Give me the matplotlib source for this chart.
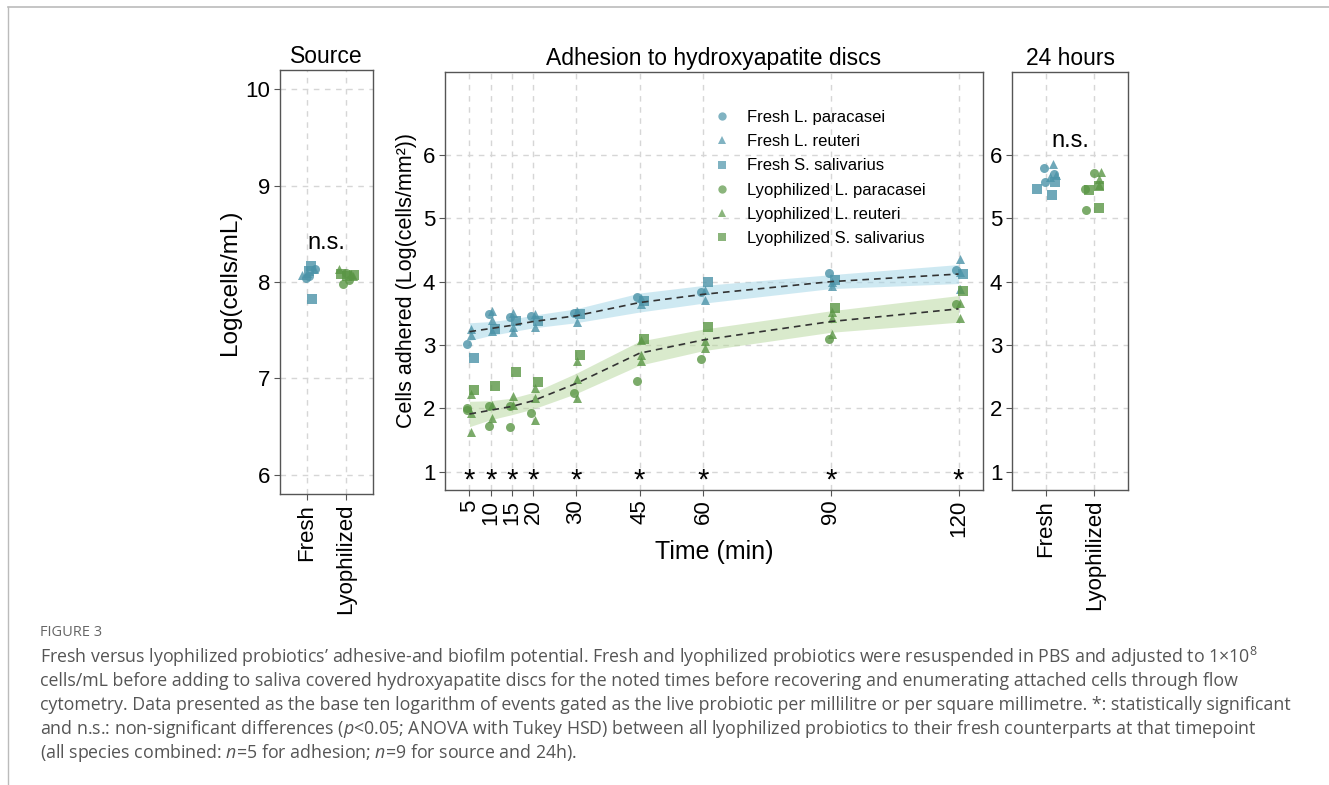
import matplotlib.pyplot as plt
from matplotlib.lines import Line2D

plt.rcParams['font.family'] = ['Liberation Sans', 'DejaVu Sans']
plt.rcParams['mathtext.fontset'] = 'custom'
plt.rcParams['mathtext.rm'] = 'Open Sans'
plt.rcParams['mathtext.it'] = 'Open Sans:italic'

# ---- adhesion panel data (log cells/mm2) ----
times = [5, 10, 15, 20, 30, 45, 60, 90, 120]

fresh_para = [[3.02], [3.49], [3.44], [3.46], [3.51], [3.76], [3.83], [4.14], [4.18]]
fresh_reut = [[3.26, 3.16], [3.54, 3.39, 3.22], [3.50, 3.29, 3.20], [3.49, 3.28],
              [3.54, 3.37], [3.74, 3.64], [3.87, 3.71], [4.00, 3.93], [4.35, 4.15, 3.88]]
fresh_sal = [[2.80], [3.25], [3.38], [3.38], [3.49], [3.69], [3.99], [4.03], [4.12]]

lyo_para = [[2.00, 1.98], [2.04, 1.72], [2.03, 1.71], [1.93], [2.24], [2.43],
            [2.78], [3.09], [3.65]]
lyo_reut = [[2.22, 1.93, 1.63], [2.06, 1.85], [2.20, 2.06], [2.32, 2.16, 1.82],
            [2.74, 2.46, 2.16], [3.08, 2.84, 2.75], [3.06, 2.95], [3.52, 3.42, 3.17],
            [3.67, 3.42]]
lyo_sal = [[2.29], [2.35], [2.58], [2.41], [2.84], [3.09], [3.28], [3.58], [3.85]]

# smoothed fit, with ribbon half widths
fresh_fit = [3.21, 3.26, 3.31, 3.37, 3.46, 3.67, 3.80, 4.00, 4.12]
fresh_se = [0.14, 0.11, 0.10, 0.10, 0.11, 0.15, 0.14, 0.11, 0.15]
lyo_fit = [1.91, 1.97, 2.03, 2.12, 2.39, 2.87, 3.08, 3.37, 3.57]
lyo_se = [0.20, 0.15, 0.13, 0.13, 0.16, 0.19, 0.17, 0.17, 0.21]

# ---- side panels: (x jitter, value) ----
source_fresh_para = [(-0.04, 8.04), (0.06, 8.06), (0.20, 8.13)]
source_fresh_reut = [(0.17, 8.14), (-0.12, 8.07), (0.00, 8.09)]
source_fresh_sal = [(0.11, 8.17), (0.06, 8.11), (0.12, 7.82)]
source_lyo_para = [(0.00, 8.09), (-0.08, 7.98), (0.08, 8.02)]
source_lyo_reut = [(-0.19, 8.14), (0.12, 8.08), (0.19, 8.06)]
source_lyo_sal = [(0.04, 8.06), (-0.12, 8.08), (0.20, 8.07)]

h24_fresh_para = [(-0.03, 5.80), (0.16, 5.70), (-0.01, 5.58)]
h24_fresh_reut = [(0.15, 5.85), (0.20, 5.69), (0.09, 5.66)]
h24_fresh_sal = [(0.18, 5.58), (-0.19, 5.47), (0.13, 5.37)]
h24_lyo_para = [(0.00, 5.72), (-0.19, 5.46), (-0.16, 5.13)]
h24_lyo_reut = [(0.14, 5.73), (0.11, 5.62), (0.09, 5.53)]
h24_lyo_sal = [(0.11, 5.51), (-0.10, 5.44), (0.09, 5.16)]

legend_labels = ["Fresh L. paracasei", "Fresh L. reuteri", "Fresh S. salivarius",
                 "Lyophilized L. paracasei", "Lyophilized L. reuteri",
                 "Lyophilized S. salivarius"]

FRESH = "#4b93a8"
LYO = "#5a9645"
W, H = 1329, 785
TICK_FS = 16
TITLE_FS = 16.5


def style_axes(ax):
    for s in ax.spines.values():
        s.set_color("#555555")
        s.set_linewidth(1.0)
    ax.grid(True, color="#d6d6d6", linestyle=(0, (4, 4)), linewidth=1.0)
    ax.set_axisbelow(True)
    ax.tick_params(length=4, width=0.8, color="#555555", labelsize=TICK_FS,
                   labelcolor="black", pad=3)


def side_points(ax, pos, groups, color):
    for pts, m in groups:
        ax.scatter([pos + p[0] for p in pts], [p[1] for p in pts], marker=m,
                   s=42, color=color, alpha=0.8, linewidths=0, zorder=3)


fig = plt.figure(figsize=(W / 100, H / 100), dpi=100)

# ---------- Source panel ----------
ax1 = fig.add_axes([280 / W, 1 - 494 / H, 93 / W, 424 / H])
style_axes(ax1)
side_points(ax1, 1, [(source_fresh_para, "o"), (source_fresh_reut, "^"),
                     (source_fresh_sal, "s")], FRESH)
side_points(ax1, 2, [(source_lyo_para, "o"), (source_lyo_reut, "^"),
                     (source_lyo_sal, "s")], LYO)
ax1.set_xlim(0.3, 2.7)
ax1.set_ylim(5.8, 10.2)
ax1.set_yticks([6, 7, 8, 9, 10])
ax1.set_xticks([1, 2])
ax1.set_xticklabels(["Fresh", "Lyophilized"], rotation=90, va="top", ha="center")
ax1.set_ylabel("Log(cells/mL)", fontsize=17.5, labelpad=3)
ax1.set_title("Source", fontsize=TITLE_FS, pad=5)
ax1.text(1.5, 8.4, "n.s.", fontsize=17, ha="center", va="center")

# ---------- Adhesion panel ----------
ax2 = fig.add_axes([445 / W, 1 - 490 / H, 538 / W, 418 / H])
style_axes(ax2)
ax2.fill_between(times, [f - e for f, e in zip(fresh_fit, fresh_se)],
                 [f + e for f, e in zip(fresh_fit, fresh_se)],
                 color="#9fd4e6", alpha=0.5, linewidth=0, zorder=1)
ax2.fill_between(times, [f - e for f, e in zip(lyo_fit, lyo_se)],
                 [f + e for f, e in zip(lyo_fit, lyo_se)],
                 color="#b5d69a", alpha=0.5, linewidth=0, zorder=1)

series = [(fresh_para, "o", FRESH, -0.5), (fresh_reut, "^", FRESH, 0.3),
          (fresh_sal, "s", FRESH, 1.0), (lyo_para, "o", LYO, -0.5),
          (lyo_reut, "^", LYO, 0.3), (lyo_sal, "s", LYO, 1.0)]
for vals, m, c, dx in series:
    xs, ys = [], []
    for t, v in zip(times, vals):
        xs += [t + dx] * len(v)
        ys += v
    ax2.scatter(xs, ys, marker=m, s=42, color=c, alpha=0.8, linewidths=0, zorder=3)

ax2.plot(times, fresh_fit, color="#333333", linestyle=(0, (4, 3)), linewidth=1.2, zorder=4)
ax2.plot(times, lyo_fit, color="#333333", linestyle=(0, (4, 3)), linewidth=1.2, zorder=4)

STAR_FS = 21
for t in times:
    ax2.annotate("*", (t, 1.0), xytext=(0, -0.58 * STAR_FS), textcoords="offset points",
                 fontsize=STAR_FS, ha="center", va="baseline", zorder=5)

ax2.set_xlim(-0.75, 125.75)
ax2.set_ylim(0.71, 7.31)
ax2.set_xticks(times)
ax2.set_xticklabels([str(t) for t in times], rotation=90, va="top", ha="center")
ax2.set_yticks([1, 2, 3, 4, 5, 6])
ax2.set_xlabel("Time (min)", fontsize=18, labelpad=2)
ax2.set_ylabel("Cells adhered (Log(cells/mm²))", fontsize=15.5, labelpad=4)
ax2.set_title("Adhesion to hydroxyapatite discs", fontsize=TITLE_FS, pad=5)

markers = ["o", "^", "s", "o", "^", "s"]
cols = [FRESH] * 3 + [LYO] * 3
handles = [Line2D([], [], marker=m, linestyle="none", color=c, alpha=0.7,
                  markersize=6, markeredgewidth=0) for m, c in zip(markers, cols)]
ax2.legend(handles, legend_labels, loc="upper left", frameon=False, fontsize=12,
           bbox_to_anchor=(714 / W, 1 - 110 / H), bbox_transform=fig.transFigure,
           handlelength=1.0, handletextpad=1.0, labelspacing=0.55, borderpad=0,
           borderaxespad=0)

# ---------- 24 hours panel ----------
ax3 = fig.add_axes([1012 / W, 1 - 490 / H, 116 / W, 418 / H])
style_axes(ax3)
side_points(ax3, 1, [(h24_fresh_para, "o"), (h24_fresh_reut, "^"),
                     (h24_fresh_sal, "s")], FRESH)
side_points(ax3, 2, [(h24_lyo_para, "o"), (h24_lyo_reut, "^"),
                     (h24_lyo_sal, "s")], LYO)
ax3.set_xlim(0.3, 2.7)
ax3.set_ylim(0.71, 7.31)
ax3.set_yticks([1, 2, 3, 4, 5, 6])
ax3.set_xticks([1, 2])
ax3.set_xticklabels(["Fresh", "Lyophilized"], rotation=90, va="top", ha="center")
ax3.set_title("24 hours", fontsize=TITLE_FS, pad=5)
ax3.text(1.5, 6.22, "n.s.", fontsize=17, ha="center", va="center")

# ---------- page frame and caption ----------
fig.add_artist(Line2D([8 / W, 1], [1 - 7 / H, 1 - 7 / H], color="#bbbbbb", linewidth=1.2))
fig.add_artist(Line2D([8 / W, 8 / W], [0, 1 - 7 / H], color="#bbbbbb", linewidth=1.0))

cap_color = "#555555"
fig.text(40 / W, 1 - 632 / H, "FIGURE 3", fontsize=10.5, color="#666666",
         family="Open Sans", va="center")
caption = [
    "Fresh versus lyophilized probiotics’ adhesive-and biofilm potential. Fresh and lyophilized probiotics were resuspended in PBS and adjusted to 1×10$^{8}$",
    "cells/mL before adding to saliva covered hydroxyapatite discs for the noted times before recovering and enumerating attached cells through flow",
    "cytometry. Data presented as the base ten logarithm of events gated as the live probiotic per millilitre or per square millimetre. *: statistically significant",
    "and n.s.: non-significant differences ($p$<0.05; ANOVA with Tukey HSD) between all lyophilized probiotics to their fresh counterparts at that timepoint",
    "(all species combined: $n$=5 for adhesion; $n$=9 for source and 24h).",
]
for i, line in enumerate(caption):
    fig.text(40 / W, 1 - (657 + 24 * i) / H, line, fontsize=12.8, color=cap_color,
             family="Open Sans", va="center")

fig.savefig("out.png", dpi=100)
